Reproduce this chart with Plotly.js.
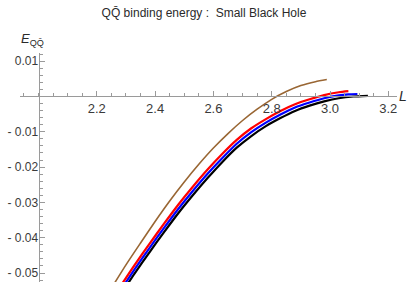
<!DOCTYPE html>
<html>
<head>
<meta charset="utf-8">
<script src="https://cdn.plot.ly/plotly-3.0.1.min.js"></script>
<style>html,body{margin:0;padding:0;background:#fff;}#chart{width:409px;height:282px;}</style>
</head>
<body>
<div id="chart"></div>
<script>
// Data (L, E_QQbar)
const L_brown = [2.25, 2.30, 2.35, 2.40, 2.45, 2.50, 2.55, 2.60, 2.65, 2.70, 2.75, 2.80, 2.85, 2.90, 2.95, 2.989];
const E_brown = [-0.0543, -0.0477, -0.0415, -0.0354, -0.0296, -0.0242, -0.0192, -0.0146, -0.0105, -0.0068, -0.0036, -0.0008, 0.0014, 0.0031, 0.0042, 0.0048];

const L_red = [2.28, 2.33, 2.38, 2.43, 2.48, 2.53, 2.58, 2.63, 2.68, 2.73, 2.78, 2.83, 2.88, 2.93, 2.98, 3.03, 3.063];
const E_red = [-0.0539, -0.0477, -0.0418, -0.0361, -0.0306, -0.0255, -0.0207, -0.0163, -0.0123, -0.0090, -0.0064, -0.0041, -0.0022, -0.0008, 0.0004, 0.0012, 0.0015];

const L_blue = [2.28, 2.33, 2.38, 2.43, 2.48, 2.53, 2.58, 2.63, 2.68, 2.73, 2.78, 2.83, 2.88, 2.93, 2.98, 3.03, 3.063, 3.094];
const E_blue = [-0.0551, -0.0489, -0.0430, -0.0373, -0.0318, -0.0267, -0.0219, -0.0175, -0.0134, -0.0101, -0.0074, -0.0051, -0.0031, -0.0017, -0.0005, 0.0003, 0.0006, 0.0007];

const L_black = [2.28, 2.33, 2.38, 2.43, 2.48, 2.53, 2.58, 2.63, 2.68, 2.73, 2.78, 2.83, 2.88, 2.93, 2.98, 3.03, 3.08, 3.13];
const E_black = [-0.0563, -0.0501, -0.0442, -0.0385, -0.0330, -0.0279, -0.0231, -0.0186, -0.0145, -0.0112, -0.0084, -0.0061, -0.0041, -0.0026, -0.0014, -0.0005, 0.0000, 0.0002];

const xTickVals = [2.2, 2.4, 2.6, 2.8, 3.0, 3.2];
const xTickText = ["2.2", "2.4", "2.6", "2.8", "3.0", "3.2"];
const yTickVals = [0.01, -0.01, -0.02, -0.03, -0.04, -0.05];
const yTickText = ["0.01", "- 0.01", "- 0.02", "- 0.03", "- 0.04", "- 0.05"];

const xRange = [1.9365, 3.2298];
const yRange = [-0.05255, 0.01232];
const xOrigin = 2.0, yOrigin = 0.0;

const axisGray = '#9a9a9a';
const labelColor = '#3a3a3a';
const FONT = '"Liberation Sans", Arial, sans-serif';

function tr(x, y, color, w) {
  return {x: x, y: y, type: 'scatter', mode: 'lines',
    line: {color: color, width: w, shape: 'spline', smoothing: 0.6},
    hoverinfo: 'skip', showlegend: false};
}

const data = [
  tr(L_black, E_black, '#000000', 2.2),
  tr(L_blue, E_blue, '#0000ff', 2.2),
  tr(L_red, E_red, '#ff0000', 2.2),
  tr(L_brown, E_brown, '#996633', 1.6)
];

const layout = {
  width: 409, height: 282,
  margin: {l: 20, r: 12, t: 53, b: 0, pad: 0},
  paper_bgcolor: '#fff', plot_bgcolor: '#fff',
  font: {family: FONT, color: labelColor},
  showlegend: false,
  title: {text: 'QQ\u0304 binding energy :\u00a0 Small Black Hole',
    font: {family: FONT, size: 12, color: '#2a2a2a'},
    xref: 'container', yref: 'container', x: 204/409, y: 1 - 13/282,
    xanchor: 'center', yanchor: 'middle'},
  xaxis: {
    range: xRange, showgrid: false, zeroline: false,
    anchor: 'free', position: (yOrigin - yRange[0]) / (yRange[1] - yRange[0]),
    showline: true, linecolor: axisGray, linewidth: 1,
    ticks: 'inside', ticklen: 5, tickcolor: axisGray, tickwidth: 1,
    tickmode: 'array', tickvals: xTickVals, ticktext: xTickText,
    tickfont: {family: FONT, size: 13, color: labelColor},
    minor: {dtick: 0.05, tick0: 0, ticks: 'inside', ticklen: 3, tickcolor: axisGray, tickwidth: 1, showgrid: false}
  },
  yaxis: {
    range: yRange, showgrid: false, zeroline: false,
    anchor: 'free', position: (xOrigin - xRange[0]) / (xRange[1] - xRange[0]),
    showline: true, linecolor: axisGray, linewidth: 1,
    ticks: 'inside', ticklen: 5, tickcolor: axisGray, tickwidth: 1,
    tickmode: 'array', tickvals: yTickVals, ticktext: yTickText,
    tickfont: {family: FONT, size: 12, color: labelColor},
    ticklabelstandoff: -2,
    minor: {dtick: 0.002, tick0: 0, ticks: 'inside', ticklen: 3, tickcolor: axisGray, tickwidth: 1, showgrid: false}
  },
  annotations: [
    {text: '<i>E</i><sub>QQ\u0304</sub>', xref: 'paper', yref: 'paper',
      x: (32 - 20) / 377, y: (282 - 39) / 229, xanchor: 'center', yanchor: 'middle',
      showarrow: false, font: {family: FONT, size: 13, color: '#2a2a2a'}},
    {text: '<i>L</i>', xref: 'paper', yref: 'paper',
      x: (403.5 - 20) / 377, y: (282 - 95.5) / 229, xanchor: 'center', yanchor: 'middle',
      showarrow: false, font: {family: FONT, size: 14, color: '#2a2a2a'}}
  ]
};

Plotly.newPlot('chart', data, layout, {staticPlot: true, displayModeBar: false});
</script>
</body>
</html>
